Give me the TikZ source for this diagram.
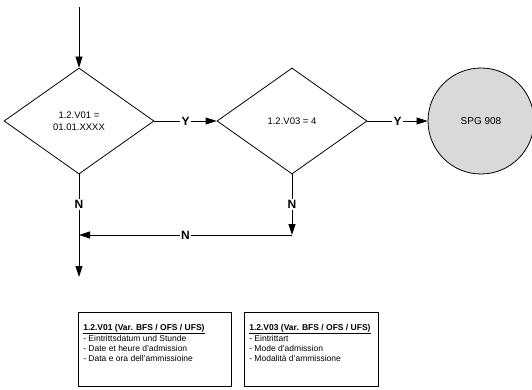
\documentclass[tikz,border=0pt]{standalone}
\usepackage{fontspec}
\setmainfont{Liberation Sans}
\usetikzlibrary{shapes.geometric,arrows.meta}

\tikzset{
  decision/.style={diamond, draw, line width=0.8pt, minimum width=150pt,
    minimum height=106pt, inner sep=0pt, align=center,
    font=\fontsize{9.5}{12}\selectfont},
  result/.style={circle, draw, line width=0.8pt, fill=black!15,
    minimum size=106pt, inner sep=0pt, font=\fontsize{10}{12}\selectfont},
  yn/.style={fill=white, inner sep=1.5pt, font=\fontsize{12}{14}\bfseries\selectfont},
  flow/.style={line width=0.8pt, -{Triangle[length=11pt,width=7pt]}},
  infobox/.style={draw, line width=0.6pt, anchor=north west, inner sep=5pt,
    font=\fontsize{8.5}{10}\selectfont}
}

\begin{document}
\begin{tikzpicture}[x=1pt,y=-1pt]
      \useasboundingbox (0,0) rectangle (532,390);

      \coordinate (start) at (79,7);
      \node[decision] (d1) at (79,121) {1.2.V01 =\\01.01.XXXX};
      \node[decision] (d2) at (292,121) {1.2.V03 = 4};
      \node[result] (spg) at (481,121) {SPG 908};
      \coordinate (j1) at (79,235);
      \coordinate (j2) at (292,235);
      \coordinate (out) at (79,277);

      \draw[flow] (start) -- (d1.north);
      \draw[flow] (d1.east) -- node[yn] {Y} (d2.west);
      \draw[flow] (d2.east) -- node[yn] {Y} (spg.west);
      \draw[line width=0.8pt] (d1.south) -- node[yn] {N} (j1);
      \draw[flow] (j1) -- (out);
      \draw[flow] (d2.south) -- node[yn] {N} (j2);
      \draw[flow] (j2) -- node[yn] {N} (j1);

      % legend boxes
      \node[infobox] (v01) at (78,312) {\parbox[t][64pt][t]{143pt}{%
        \vspace*{7pt}\textbf{\underline{1.2.V01 (Var. BFS / OFS / UFS)}}\\[1pt]
        - Eintrittsdatum und Stunde\\
        - Date et heure d'admission\\
        - Data e ora dell'ammissioine}};
      \node[infobox] (v03) at (244,312) {\parbox[t][64pt][t]{124pt}{%
        \vspace*{7pt}\textbf{\underline{1.2.V03 (Var. BFS / OFS / UFS)}}\\[1pt]
        - Eintrittart\\
        - Mode d'admission\\
        - Modalità d'ammissione}};
\end{tikzpicture}
\end{document}
